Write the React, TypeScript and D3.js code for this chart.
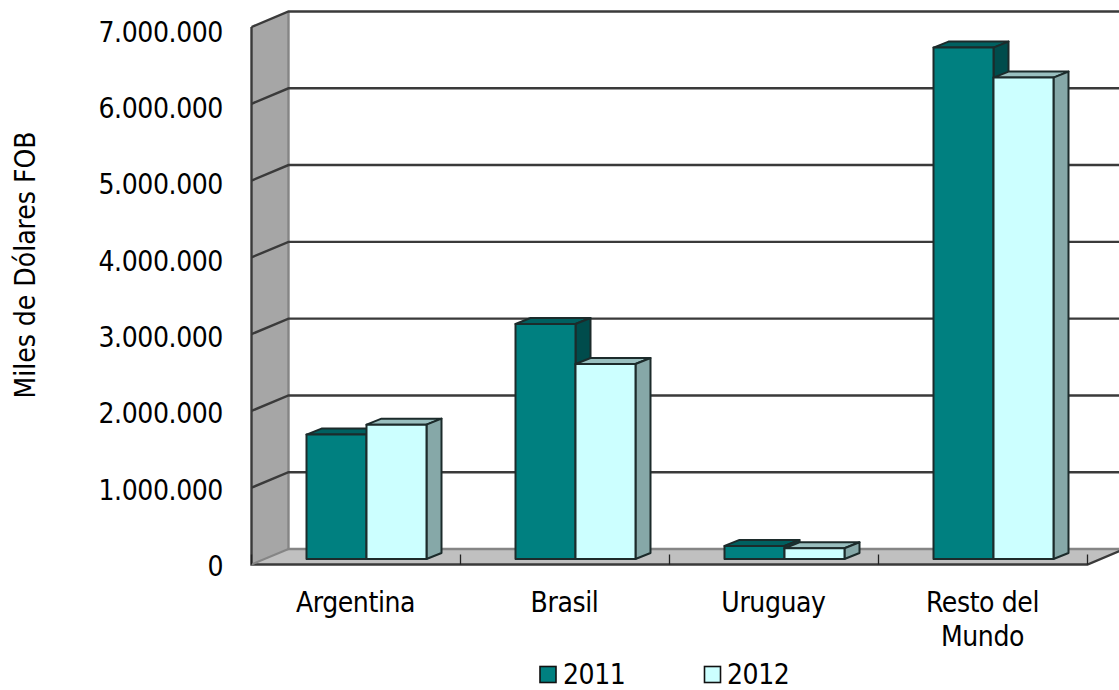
import React from "react";
import * as d3 from "d3";

const categories = ["Argentina", "Brasil", "Uruguay", "Resto del Mundo"];
const categoryLines = [["Argentina"], ["Brasil"], ["Uruguay"], ["Resto del", "Mundo"]];
const series2011 = [1620000, 3060000, 170000, 6660000];
const series2012 = [1750000, 2540000, 140000, 6270000];
const yTicks = [0, 1000000, 2000000, 3000000, 4000000, 5000000, 6000000, 7000000];
const tickLabels = ["0", "1.000.000", "2.000.000", "3.000.000", "4.000.000", "5.000.000", "6.000.000", "7.000.000"];

const W = 1119, H = 690;
const FONT = "'DejaVu Sans Condensed', 'DejaVu Sans', sans-serif";
const LINE = "#3a3a3a";
const EDGE = "#858585";

const x0 = 251.5, x1 = 1087.5, yBottom = 564.5, yTop = 27;
const wallDx = 37, wallDy = -15.5;
const barDx = 15, barDy = -6;
const barShiftY = -5.5;

const xBand = d3.scaleBand<string>().domain(categories).range([x0, x1]);
const y = d3.scaleLinear().domain([0, 7000000]).range([yBottom, yTop]);
const yLabel = d3.scaleLinear().domain([0, 7000000]).range([576, 41.5]);

const pts = (p: [number, number][]) => p.map(d => d.join(",")).join(" ");

function Bar({ x, w, v, front, top, side }: { x: number; w: number; v: number; front: string; top: string; side: string }) {
  const yb = yBottom + barShiftY;
  const yt = y(v) + barShiftY;
  return (
    <g stroke="#1c2b2b" strokeWidth={2} strokeLinejoin="round">
      <polygon points={pts([[x, yt], [x + barDx, yt + barDy], [x + w + barDx, yt + barDy], [x + w, yt]])} fill={top} />
      <polygon points={pts([[x + w, yt], [x + w + barDx, yt + barDy], [x + w + barDx, yb + barDy], [x + w, yb]])} fill={side} />
      <rect x={x} y={yt} width={w} height={yb - yt} fill={front} />
    </g>
  );
}

export default function App() {
  const barW = 60;
  const offset = 55;
  const spacing = -0.4;
  return (
    <svg width={W} height={H} viewBox={`0 0 ${W} ${H}`} style={{ position: "absolute", left: 0, top: 0, background: "#fff" }} fontFamily={FONT} fill="#000">
      <polygon points={pts([[x0, yTop], [x0 + wallDx, yTop + wallDy], [x0 + wallDx, yBottom + wallDy], [x0, yBottom]])} fill="#a6a6a6" />
      <polygon points={pts([[x0, yBottom], [x0 + wallDx, yBottom + wallDy], [x1 + wallDx, yBottom + wallDy], [x1, yBottom]])} fill="#c0c0c0" />
      <polyline points={pts([[x0 + wallDx, yTop + wallDy], [x0 + wallDx, yBottom + wallDy], [x1 + wallDx, yBottom + wallDy]])} fill="none" stroke={EDGE} strokeWidth={2.4} />
      {yTicks.slice(1).map(t => (
        <polyline key={t} stroke={LINE} strokeWidth={2.4} fill="none"
          points={pts([[x0, y(t)], [x0 + wallDx, y(t) + wallDy], [x1 + wallDx, y(t) + wallDy]])} />
      ))}
      <polyline points={pts([[x0, yTop], [x0, yBottom], [x1, yBottom], [x1 + wallDx, yBottom + wallDy]])} fill="none" stroke={LINE} strokeWidth={2.4} />
      <line x1={x0} x2={x0 + wallDx} y1={yBottom} y2={yBottom + wallDy} stroke={EDGE} strokeWidth={2} />
      {categories.map(c => (
        <line key={c} x1={xBand(c)!} x2={xBand(c)!} y1={yBottom} y2={yBottom - 10} stroke="#222" strokeWidth={1.3} />
      ))}
      <line x1={x1} x2={x1} y1={yBottom} y2={yBottom - 10} stroke="#222" strokeWidth={1.3} />
      {categories.map((c, i) => {
        const bx = xBand(c)! + offset;
        return (
          <g key={c}>
            <Bar x={bx} w={barW} v={series2011[i]} front="#008080" top="#006060" side="#004c4c" />
            <Bar x={bx + barW} w={barW} v={series2012[i]} front="#ccffff" top="#99bfbf" side="#86a8a8" />
          </g>
        );
      })}
      {yTicks.map((t, i) => (
        <text key={t} x={223} y={yLabel(t)} textAnchor="end" fontSize={28} letterSpacing={spacing}>{tickLabels[i]}</text>
      ))}
      {categories.map((c, i) => (
        <text key={c} textAnchor="middle" fontSize={28} letterSpacing={spacing} y={612}>
          {categoryLines[i].map((l, j) => (
            <tspan key={l} x={xBand(c)! + xBand.bandwidth() / 2 - 0.5} dy={j === 0 ? 0 : 34}>{l}</tspan>
          ))}
        </text>
      ))}
      <text transform="translate(35,265) rotate(-90)" textAnchor="middle" fontSize={28}>Miles de Dólares FOB</text>
      <rect x={540} y={666.5} width={16} height={16} fill="#008080" stroke="#111" strokeWidth={1.6} />
      <text x={563} y={683.5} fontSize={28} letterSpacing={spacing}>2011</text>
      <rect x={704.5} y={666.5} width={16} height={16} fill="#ccffff" stroke="#111" strokeWidth={1.6} />
      <text x={727} y={683.5} fontSize={28} letterSpacing={spacing}>2012</text>
    </svg>
  );
}
